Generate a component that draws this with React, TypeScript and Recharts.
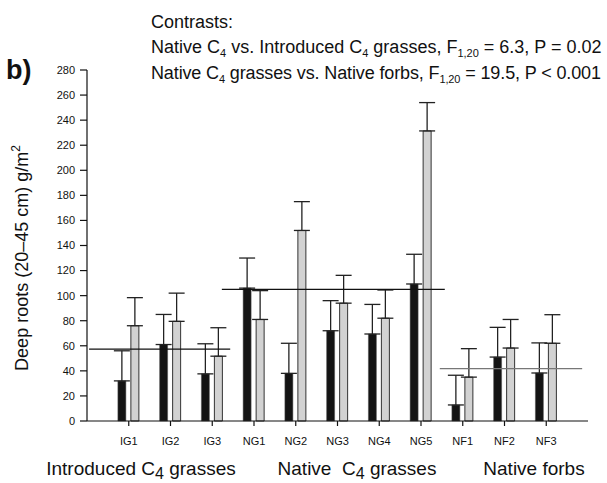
import { Bar, BarChart, ErrorBar, ReferenceLine, XAxis, YAxis } from "recharts";

const categories = ["IG1", "IG2", "IG3", "NG1", "NG2", "NG3", "NG4", "NG5", "NF1", "NF2", "NF3"];
const blackValues = [32, 61, 37.6, 106, 38, 72, 69.4, 109.3, 12.8, 51, 38.3];
const blackErrors = [24, 24, 24, 24, 24, 24, 23.6, 23.7, 23.7, 23.7, 24];
const grayValues = [76, 79.5, 51.7, 81, 152, 94, 82, 231.4, 35, 58.2, 62];
const grayErrors = [22.4, 22.5, 22.7, 23, 23, 22.2, 22.5, 22.6, 22.7, 22.8, 22.8];
const yTicks = [0, 20, 40, 60, 80, 100, 120, 140, 160, 180, 200, 220, 240, 260, 280];

// group means, drawn as segments over each group's slots (0..12 slot scale)
const groupMeans = [57.3, 105, 41.8];
const groupFrom = [0.05, 3.23, 8.45];
const groupTo = [3.43, 8.57, 11.86];
const groupColors = ["#111", "#111", "#777"];

const FONT = "'Liberation Sans', Arial, sans-serif";

const data = categories.map((name, i) => ({
  pos: i + 1,
  name,
  black: blackValues[i],
  blackErr: [0, blackErrors[i]],
  gray: grayValues[i],
  grayErr: [0, grayErrors[i]],
}));

function Notes() {
  const sub = { fontSize: 11 };
  return (
    <g fontFamily={FONT} fill="#111">
      <text x={6} y={79} fontSize={27} fontWeight="bold">b)</text>
      <text x={151} y={28} fontSize={18}>Contrasts:</text>
      <text x={151} y={53} fontSize={18}>
        Native C<tspan {...sub} dy={4}>4</tspan>
        <tspan dy={-4}> vs. Introduced C</tspan>
        <tspan {...sub} dy={4}>4</tspan>
        <tspan dy={-4}> grasses, F</tspan>
        <tspan {...sub} dy={4}>1,20</tspan>
        <tspan dy={-4}> = 6.3, P = 0.02</tspan>
      </text>
      <text x={151} y={79} fontSize={18} textLength={450}>
        Native C<tspan {...sub} dy={4}>4</tspan>
        <tspan dy={-4}> grasses vs. Native forbs, F</tspan>
        <tspan {...sub} dy={4}>1,20</tspan>
        <tspan dy={-4}> = 19.5, P &lt; 0.001</tspan>
      </text>
      <text x={28} y={258} fontSize={18} textAnchor="middle" transform="rotate(-90 28 258)">
        Deep roots (20–45 cm) g/m<tspan fontSize={12} dy={-8}>2</tspan>
      </text>
      <text x={141} y={475} fontSize={19} textAnchor="middle">
        Introduced C<tspan fontSize={16} dy={4}>4</tspan>
        <tspan dy={-4}> grasses</tspan>
      </text>
      <text x={357} y={475} fontSize={19} textAnchor="middle" xmlSpace="preserve">
        Native  C<tspan fontSize={16} dy={4}>4</tspan>
        <tspan dy={-4}> grasses</tspan>
      </text>
      <text x={534} y={475} fontSize={19} textAnchor="middle">Native forbs</text>
    </g>
  );
}

export default function App() {
  return (
    <div style={{ position: "absolute", left: 0, top: 0, width: 607, height: 483, background: "#fff" }}>
      <BarChart
        width={607}
        height={483}
        data={data}
        margin={{ top: 70, right: 19, bottom: 32, left: 0 }}
        barSize={8}
        barGap={5}
      >
        <XAxis
          dataKey="pos"
          type="number"
          domain={[0, 12]}
          ticks={data.map((d) => d.pos)}
          tickFormatter={(v) => categories[v - 1] ?? ""}
          interval={0}
          height={30}
          tickSize={5}
          tickMargin={11}
          stroke="#111"
          strokeWidth={1.2}
          tick={{ fontSize: 11, fill: "#111", fontFamily: FONT }}
        />
        <YAxis
          domain={[0, 280]}
          ticks={yTicks}
          interval={0}
          width={87}
          tickSize={7}
          tickMargin={5}
          stroke="#111"
          strokeWidth={1.2}
          tick={{ fontSize: 11, fill: "#111", fontFamily: FONT }}
        />
        <Bar dataKey="black" fill="#141414" stroke="#555" strokeWidth={0.5} isAnimationActive={false}>
          <ErrorBar dataKey="blackErr" width={8} stroke="#222" strokeWidth={1.3} />
        </Bar>
        <Bar dataKey="gray" fill="#d2d2d2" stroke="#333" strokeWidth={1} isAnimationActive={false}>
          <ErrorBar dataKey="grayErr" width={8} stroke="#222" strokeWidth={1.3} />
        </Bar>
        {groupMeans.map((m, i) => (
          <ReferenceLine
            key={i}
            segment={[
              { x: groupFrom[i], y: m },
              { x: groupTo[i], y: m },
            ]}
            stroke={groupColors[i]}
            strokeWidth={1.4}
            ifOverflow="visible"
          />
        ))}
        <Notes />
      </BarChart>
    </div>
  );
}
